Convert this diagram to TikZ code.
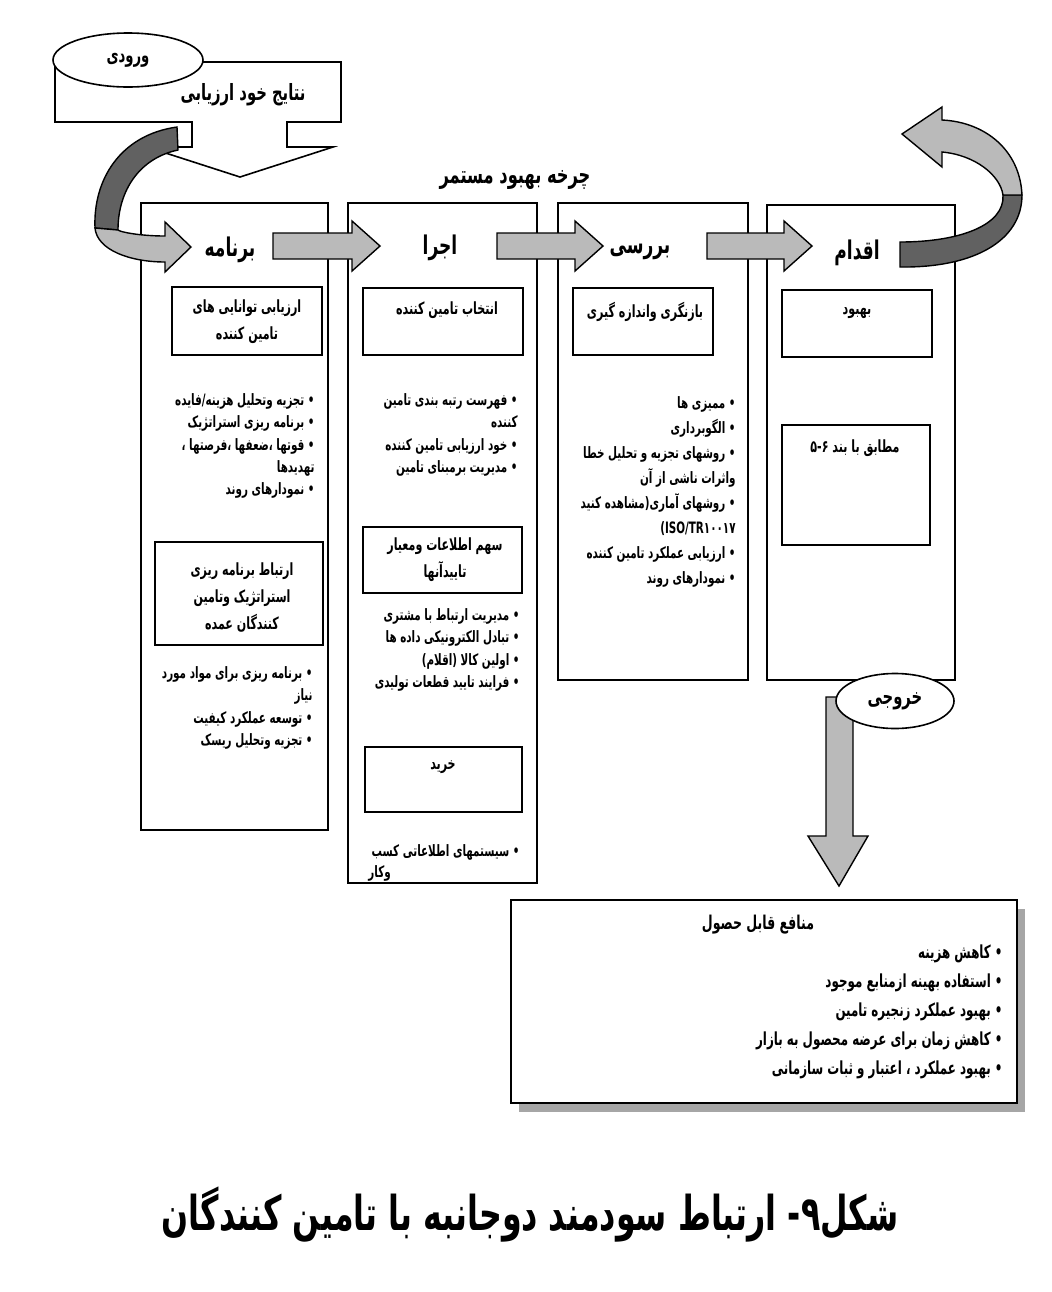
\documentclass[tikz,border=0pt]{standalone}
\usepackage{fontspec}
\usetikzlibrary{shapes.geometric,fit,shadows}
\newfontfamily\farsi[Script=Arabic, FakeStretch=0.66]{DejaVu Sans}
\newfontfamily\farsilat[FakeStretch=0.66]{DejaVu Sans}
\TeXXeTstate=1
\newcommand{\rl}[1]{\beginR #1\endR}
% horizontal block arrow: start x, tip x, mid y
\newcommand{\blockarrow}[3]{%
  \filldraw[flowarrow] (#1,#3-13) -- (#2-28,#3-13) -- (#2-28,#3-25) -- (#2,#3)
    -- (#2-28,#3+25) -- (#2-28,#3+13) -- (#1,#3+13) -- cycle;}
\tikzset{
    colbox/.style={draw, line width=0.8pt, inner sep=0pt},
    itembox/.style={draw, line width=0.8pt, inner sep=0pt},
    boxtext/.style={font=\farsi\bfseries\fontsize{8.4}{13.5}\selectfont, align=center, inner sep=0pt},
    bulletlist/.style={font=\farsi\bfseries\fontsize{7.85}{11.2}\selectfont, align=right, anchor=north east, inner sep=0pt},
    phasetitle/.style={font=\farsi\bfseries\fontsize{12.9}{14}\selectfont, inner sep=0pt},
    tagellipse/.style={draw, ellipse, fill=white, line width=0.8pt, inner sep=0pt, font=\farsi\bfseries\fontsize{10}{12}\selectfont},
    flowarrow/.style={fill=black!27, draw=black, line width=0.7pt},
    backarrow/.style={fill=black!62, draw=black, line width=0.7pt}
}
\begin{document}
\begin{tikzpicture}[x=0.5pt, y=-0.5pt]
\useasboundingbox (0,0) rectangle (1052,1292);
% input
\filldraw[fill=white, line width=0.8pt] (55,62) -- (341,62) -- (341,122) -- (287,122) -- (287,147) -- (333,147)
    -- (240,177) -- (147,147) -- (192,147) -- (192,122) -- (55,122) -- cycle;
\node[tagellipse, minimum width=75pt, minimum height=27pt] (input) at (128,60) {\rl{ورودی}};
\node[phasetitle, font=\farsi\bfseries\fontsize{11.2}{13}\selectfont] (selfeval) at (243,95) {\rl{نتایج خود ارزیابی}};
\node[phasetitle, font=\farsi\bfseries\fontsize{12.3}{14}\selectfont] (cycle) at (515,180) {\rl{چرخه بهبود مستمر}};
% columns
\node[colbox, fit={(141,203) (328,830)}] (plan) {};
\node[colbox, fit={(348,203) (537,883)}] (do) {};
\node[colbox, fit={(558,203) (748,680)}] (check) {};
\node[colbox, fit={(767,205) (955,680)}] (act) {};
\node[phasetitle] (planhead) at (230,250) {\rl{برنامه}};
\node[phasetitle] (dohead) at (440,248) {\rl{اجرا}};
\node[phasetitle] (checkhead) at (640,252) {\rl{بررسی}};
\node[phasetitle] (acthead) at (857,253) {\rl{اقدام}};
% plan
\node[itembox, fit={(172,287) (322,355)}] (planbox1) {};
\node[boxtext] (plantext1) at (247,322) {\rl{ارزیابی توانایی های}\\\rl{تامین کننده}};
\node[bulletlist] (planlist1) at (315,393) {\rl{• تجزیه وتحلیل هزینه/فایده}\\\rl{• برنامه ریزی استراتژیک}\\
    \rl{• قوتها ،ضعفها ،فرصتها ،}\\\rl{تهدیدها}\hspace*{0.9em}\\\rl{• نمودارهای روند}};
\node[itembox, fit={(155,542) (323,645)}] (planbox2) {};
\node[boxtext] (plantext2) at (242,597) {\rl{ارتباط برنامه ریزی}\\\rl{استراتژیک وتامین}\\\rl{کنندگان عمده}};
\node[bulletlist] (planlist2) at (313,666) {\rl{• برنامه ریزی برای مواد مورد}\\\rl{نیاز}\hspace*{0.9em}\\
    \rl{• توسعه عملکرد کیفیت}\\\rl{• تجزیه وتحلیل ریسک}};
% do
\node[itembox, fit={(363,288) (523,355)}] (dobox1) {};
\node[boxtext] (dotext1) at (447,310) {\rl{انتخاب تامین کننده}};
\node[bulletlist] (dolist1) at (518,393) {\rl{• فهرست رتبه بندی تامین}\\\rl{کننده}\hspace*{0.9em}\\
    \rl{• خود ارزیابی تامین کننده}\\\rl{• مدیریت برمبنای تامین}};
\node[itembox, fit={(363,527) (522,593)}] (dobox2) {};
\node[boxtext] (dotext2) at (445,560) {\rl{سهم اطلاعات ومعیار}\\\rl{تاییدآنها}};
\node[bulletlist] (dolist2) at (520,608) {\rl{• مدیریت ارتباط با مشتری}\\\rl{• تبادل الکترونیکی داده ها}\\
    \rl{• اولین کالا (اقلام)}\\\rl{• فرایند تایید قطعات تولیدی}};
\node[itembox, fit={(365,747) (522,812)}] (dobox3) {};
\node[boxtext] (dotext3) at (443,767) {\rl{خرید}};
\node[bulletlist] (dolist3) at (520,844) {\rl{• سیستمهای اطلاعاتی کسب}};
\node[bulletlist, anchor=west] (dolist3b) at (368,873) {\rl{وکار}};
% check
\node[itembox, fit={(573,288) (713,355)}] (checkbox1) {};
\node[boxtext] (checktext1) at (645,312) {\rl{بازنگری واندازه گیری}};
\node[bulletlist, font=\farsi\bfseries\fontsize{7.85}{12.5}\selectfont] (checklist) at (736,396) {\rl{• ممیزی ها}\\\rl{• الگوبرداری}\\
    \rl{• روشهای تجزیه و تحلیل خطا}\\\rl{واثرات ناشی از آن}\hspace*{0.9em}\\
    \rl{• روشهای آماری(مشاهده کنید}\\\rl{ISO/TR۱۰۰۱۷\hbox{\farsilat\bfseries(}}\hspace*{0.9em}\\
    \rl{• ارزیابی عملکرد تامین کننده}\\\rl{• نمودارهای روند}};
% act
\node[itembox, fit={(782,290) (932,357)}] (actbox1) {};
\node[boxtext] (acttext1) at (857,313) {\rl{بهبود}};
\node[itembox, fit={(782,425) (930,545)}] (actbox2) {};
\node[boxtext] (acttext2) at (855,448) {\rl{مطابق با بند ۵-۶}};
% flow arrows
\filldraw[backarrow] (177,127) .. controls (120,135) and (93,180) .. (95,228) -- (118,230)
    .. controls (118,190) and (140,158) .. (178,150) -- cycle;
\filldraw[flowarrow] (95,228) .. controls (97,250) and (130,262) .. (165,262) -- (165,272) -- (191,247)
    -- (165,222) -- (165,236) .. controls (140,236) and (120,232) .. (118,230) -- cycle;
\blockarrow{273}{380}{246}
\blockarrow{497}{603}{246}
\blockarrow{707}{812}{246}
\filldraw[backarrow] (1003,195) .. controls (1005,225) and (960,242) .. (900,242) -- (900,267)
    .. controls (975,268) and (1022,240) .. (1022,195) -- cycle;
\filldraw[flowarrow] (942,152) .. controls (975,155) and (1000,175) .. (1003,195) -- (1022,195)
    .. controls (1020,150) and (985,122) .. (942,120) -- (942,107) -- (902,134) -- (942,167) -- cycle;
% output
\filldraw[flowarrow] (826,697) -- (853,697) -- (853,836) -- (868,836) -- (839,886) -- (808,836) -- (826,836) -- cycle;
\node[tagellipse, minimum width=59pt, minimum height=27.5pt, font=\farsi\bfseries\fontsize{11.2}{13}\selectfont] (output) at (895,701) {\rl{خروجی}};
\node[colbox, fill=white, fit={(511,900) (1017,1103)}, drop shadow={shadow xshift=4pt, shadow yshift=-4.5pt, fill=black!35, opacity=1}] (benefits) {};
\node[phasetitle, font=\farsi\bfseries\fontsize{9.5}{11}\selectfont] (benefittitle) at (758,925) {\rl{منافع قابل حصول}};
\node[bulletlist, font=\farsi\bfseries\fontsize{9}{14.5}\selectfont] (benefitlist) at (1003,944) {\rl{• کاهش هزینه}\\
    \rl{• استفاده بهینه ازمنابع موجود}\\\rl{• بهبود عملکرد زنجیره تامین}\\
    \rl{• کاهش زمان برای عرضه محصول به بازار}\\\rl{• بهبود عملکرد ، اعتبار و ثبات سازمانی}};
\node[font=\farsi\bfseries\fontsize{24}{26}\selectfont] (caption) at (530,1215) {\rl{شکل۹- ارتباط سودمند دوجانبه با تامین کنندگان}};
\end{tikzpicture}
\end{document}
